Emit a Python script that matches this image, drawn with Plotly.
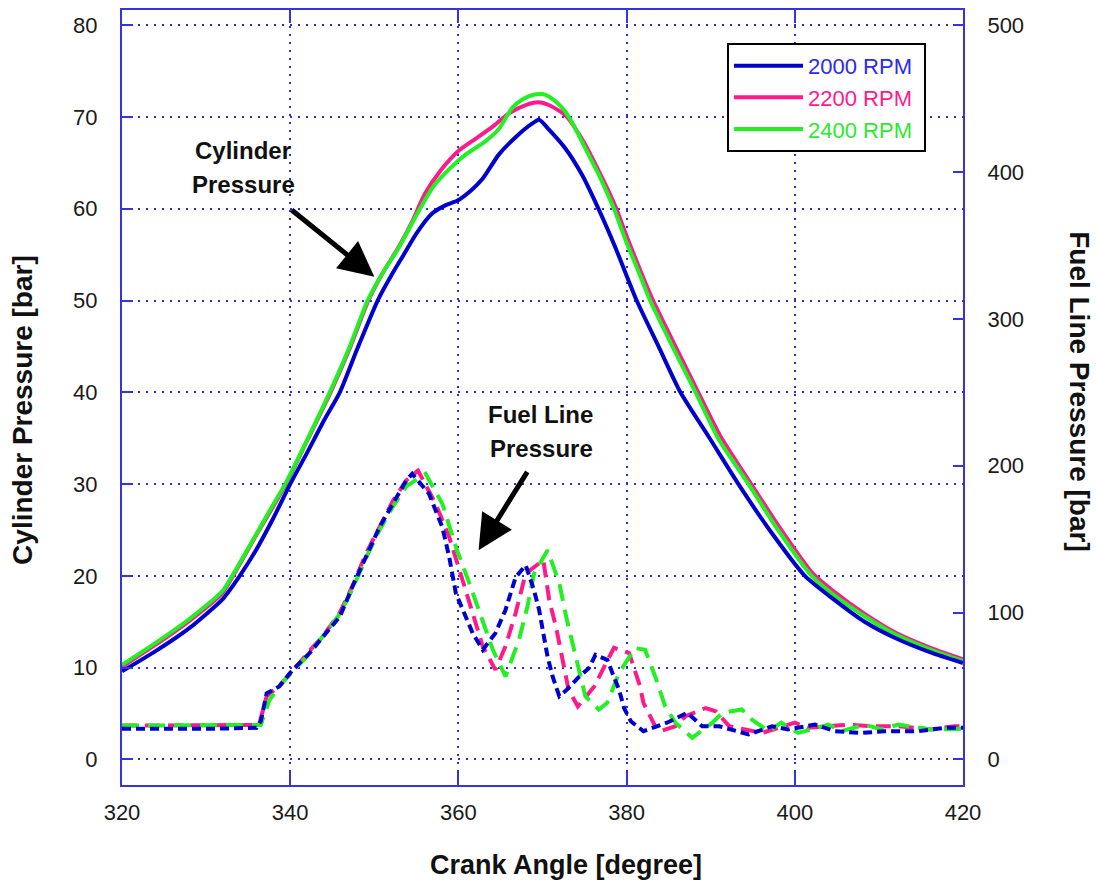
import plotly.graph_objects as go

# ---------------- data ----------------
# Cylinder pressure [bar] (left axis), crank angle [deg]
cyl_2000_x = [320, 324, 328, 332, 334, 336, 338, 340, 342, 344, 345.9, 348, 350.4, 352, 353.5, 355,
              356.9, 358.5, 359.9, 361.5, 362.9, 364.8, 366.8, 368.8, 369.6, 370.8, 372.7, 374.7,
              376.7, 378.7, 381.2, 383.8, 386.4, 389.8, 393.3, 397, 401.2, 404.4, 408.3, 412,
              416.3, 420]
cyl_2000_y = [9.6, 11.8, 14.3, 17.5, 20.0, 22.9, 26.3, 30.0, 33.4, 36.9, 40.0, 44.8, 50.0, 52.7, 55.0, 57.3,
              59.5, 60.4, 60.9, 62.0, 63.3, 65.9, 67.8, 69.3, 69.7, 68.6, 66.6, 63.7,
              59.9, 55.7, 50.0, 45.0, 40.0, 35.1, 30.0, 25.0, 20.0, 17.6, 15.0, 13.2,
              11.6, 10.5]

cyl_2200_x = [320, 324, 328, 332, 333.2, 336, 338, 339.5, 342, 344.8, 347, 349.3, 351, 353, 354.5, 356,
              358, 360, 362, 364, 366, 368, 369.5, 371, 372.7, 374.7, 376.7, 378.6, 380.1, 382.9,
              385.6, 388.3, 391.1, 394.6, 398.1, 402.1, 404.5, 408.4, 412, 416.3, 420]
cyl_2200_y = [10.1, 12.5, 15.1, 18.2, 20.0, 24.5, 27.6, 30.0, 34.7, 40.0, 44.6, 50.0, 53.0, 56.0, 58.6, 61.6,
              64.3, 66.3, 67.6, 68.9, 70.4, 71.3, 71.6, 71.2, 70.2, 67.6, 64.1, 60.4, 56.8, 50.5,
              45.4, 40.4, 35.3, 30.3, 25.4, 20.3, 18.4, 15.8, 13.8, 12.1, 10.9]

cyl_2400_x = [320, 324, 328, 332, 333.1, 336, 338, 339.4, 342, 344.7, 347, 349.2, 351, 353, 355, 357,
              359, 361, 363, 364.8, 366.4, 367.6, 368.8, 370, 370.8, 371.8, 372.7, 373.7, 374.7,
              375.7, 376.7, 377.6, 378.5, 380, 381.4, 382.8, 385.5, 388.2, 391, 394.5, 398, 402,
              404.4, 408.3, 412, 416.3, 420]
cyl_2400_y = [10.3, 12.7, 15.3, 18.4, 20.0, 24.6, 27.8, 30.0, 34.8, 40.0, 44.8, 50.0, 53.0, 55.9, 59.3, 62.4,
              64.4, 66.0, 67.2, 68.7, 71.0, 71.9, 72.4, 72.5, 72.2, 71.5, 70.6, 69.1, 67.3,
              65.5, 63.7, 61.9, 60.0, 56.3, 53.2, 50.0, 44.9, 40.0, 34.8, 30.0, 25.0, 20.0,
              18.1, 15.6, 13.6, 11.9, 10.7]

# Fuel line pressure [bar] (right axis)
fuel_2000_x = [320, 325, 330, 336.0, 336.5, 337.2, 338.7, 340.3, 342.3, 343.9, 345.9, 347.4, 349.0, 350.6,
               352.2, 353.8, 354.5, 356.5, 358.1, 358.9, 359.7, 360.5, 361.7, 362.9, 364.4, 365.6,
               366.8, 368.0, 369.0, 369.6, 370.2, 370.6, 371.2, 372.0, 372.9, 374.3, 375.5, 376.3,
               377.7, 378.3, 379.1, 379.7, 380.5, 382.0, 384.8, 387.2, 389.0, 391.0, 394.5, 397.3,
               399.2, 402.4, 404.8, 407.9, 410.7, 414.7, 417.8, 420]
fuel_2000_y = [20.8, 20.8, 20.8, 21.5, 26, 45, 49.7, 61, 72.4, 83.6, 97.2, 117.6, 138, 158,
               174, 190, 194.5, 181, 158, 138, 113, 101.8, 86, 74.6, 86, 101.8,
               124, 132.3, 115, 101.8, 83.6, 70, 56.5, 43, 47.5, 56, 62, 71.2,
               67.8, 58.8, 47.5, 35, 26, 19.2, 25, 31.7, 22.6, 22.6, 17, 22.6,
               20.4, 23.7, 19.2, 18, 19.2, 19.2, 21.5, 21.5]

fuel_2200_x = [320, 325, 330, 336.3, 337.2, 338.7, 340.3, 342.3, 343.9, 345.9, 347.4, 349.0, 350.6, 352.2,
               353.8, 355.2, 357.3, 358.9, 360.5, 361.7, 362.9, 364.4, 365.6, 366.8, 368.0, 370.1,
               370.8, 371.6, 372.4, 373.1, 374.2, 376.2, 377.5, 378.5, 380.3, 380.7, 381.6, 382.0,
               383.4, 384.0, 385.8, 387.0, 389.4, 390.6, 392.2, 394.1, 396.1, 400.0, 401.6, 406.4,
               409.1, 412.3, 416.2, 419.0, 420]
fuel_2200_y = [23, 23, 23, 23.5, 43, 50, 60, 74, 84, 100, 118, 140, 158, 176,
               190, 196.7, 174, 151.5, 122, 99.5, 76.9, 61, 77, 99.5, 126.6, 135.7,
               108.5, 90.4, 65.6, 47.5, 36, 50, 65, 76, 72.4, 65.6, 49.7, 38.5,
               22.6, 19.2, 22.6, 29.4, 35, 32.8, 22.6, 20.4, 18, 25, 21.5, 23.7,
               22.6, 22.6, 20.4, 22.6, 22.6]

fuel_2400_x = [320, 325, 330, 336.5, 337.5, 338.7, 340.3, 342.3, 343.9, 345.9, 347.4, 349.0, 350.6, 352.2,
               353.8, 356.1, 358.1, 359.7, 361.3, 362.9, 364.1, 365.6, 367.2, 368.2, 369.0, 370.6,
               372.0, 372.9, 373.9, 375.1, 376.7, 377.7, 379.1, 381.0, 382.2, 383.4, 384.6, 385.8,
               387.8, 390.2, 391.4, 393.7, 394.9, 396.9, 398.4, 400.4, 402.0, 404.0, 405.6, 408.3,
               410.3, 412.3, 416.2, 420]
fuel_2400_y = [23, 23, 23, 23.5, 40, 50, 60, 72, 84, 99, 116, 137, 156, 172,
               186, 194.5, 174, 144.7, 120, 95, 74.6, 56.5, 81.4, 104, 126.6, 142.5,
               120, 95, 72.4, 43, 34, 38.5, 58.8, 75.8, 74.6, 56.5, 36, 25,
               14.7, 25, 31.7, 34, 27, 19.2, 25, 18, 20.4, 23.7, 19.2, 23.7,
               20.4, 23.7, 20.4, 20.8]

series_names = ["2000 RPM", "2200 RPM", "2400 RPM"]
line_colors = ["#0000CC", "#FF1A8C", "#22F022"]
legend_text_colors = ["#2A2AF0", "#FF1A8C", "#2EE82E"]
fuel_dashes = ["9px,5px", "15px,8px", "17px,9px"]

x_ticks = [320, 340, 360, 380, 400, 420]
y_ticks = [0, 10, 20, 30, 40, 50, 60, 70, 80]
y2_ticks = [0, 100, 200, 300, 400, 500]

FONT = "Liberation Sans, Arial, sans-serif"
AXIS_BLUE = "#3535E0"
GRID_BLUE = "#2A2AE0"

cyl = [(cyl_2000_x, cyl_2000_y), (cyl_2200_x, cyl_2200_y), (cyl_2400_x, cyl_2400_y)]
fuel = [(fuel_2000_x, fuel_2000_y), (fuel_2200_x, fuel_2200_y), (fuel_2400_x, fuel_2400_y)]

fig = go.Figure()

draw_order = [1, 2, 0]
for i in draw_order:
    fx, fy = fuel[i]
    fig.add_trace(go.Scatter(x=fx, y=fy, mode="lines", yaxis="y2", showlegend=False,
                             line=dict(color=line_colors[i], width=4, dash=fuel_dashes[i])))
for i in draw_order:
    cx, cy = cyl[i]
    fig.add_trace(go.Scatter(
        x=cx, y=cy, mode="lines", legendrank=i + 1,
        name=f"<span style='color:{legend_text_colors[i]}'>{series_names[i]}</span>&nbsp;",
        line=dict(color=line_colors[i], width=4, shape="spline", smoothing=0.6)))

fig.update_layout(
    width=1096, height=883,
    margin=dict(l=122, r=133, t=8, b=98),
    paper_bgcolor="white", plot_bgcolor="white",
    font=dict(family=FONT, size=21, color="#1a1a1a"),
    showlegend=True,
    legend=dict(x=0.7194, y=0.9575, xanchor="left", yanchor="top",
                bordercolor="black", borderwidth=2, bgcolor="white",
                font=dict(family=FONT, size=22), tracegroupgap=0,
                itemwidth=69),
    xaxis=dict(range=[320, 420], tickvals=x_ticks, ticks="inside", ticklen=13, tickwidth=2,
               tickcolor=AXIS_BLUE, showline=True, linecolor=AXIS_BLUE, linewidth=2, mirror="ticks",
               showgrid=True, gridcolor=GRID_BLUE, gridwidth=1.5, griddash="2px,6px",
               zeroline=False, ticklabelstandoff=7,
               tickfont=dict(family=FONT, size=22, color="#1a1a1a")),
    yaxis=dict(range=[-2.79, 81.66], tickvals=y_ticks, ticks="inside", ticklen=11, tickwidth=2,
               tickcolor=AXIS_BLUE, showline=True, linecolor=AXIS_BLUE, linewidth=2,
               showgrid=True, gridcolor=GRID_BLUE, gridwidth=1.5, griddash="2px,6px",
               zeroline=False, ticklabelstandoff=18,
               tickfont=dict(family=FONT, size=22, color="#1a1a1a")),
    yaxis2=dict(range=[-17.44, 510.4], tickvals=y2_ticks, overlaying="y", side="right",
                ticks="inside", ticklen=10, tickwidth=2, tickcolor=AXIS_BLUE,
                showline=True, linecolor=AXIS_BLUE, linewidth=2, showgrid=False, zeroline=False,
                ticklabelstandoff=18,
                tickfont=dict(family=FONT, size=22, color="#1a1a1a")),
)

xtitle_font = dict(family=FONT, size=27, color="#111111")
ytitle_font = dict(family=FONT, size=28, color="#111111")
note_font = dict(family=FONT, size=24, color="#111111")
ann = [
    dict(text="<b>Crank Angle [degree]</b>", xref="paper", yref="paper", x=0.528, y=-0.103,
         showarrow=False, font=xtitle_font, xanchor="center", yanchor="middle"),
    dict(text="<b>Cylinder Pressure [bar]</b>", xref="paper", yref="paper", x=-0.1177, y=0.484,
         showarrow=False, font=ytitle_font, textangle=-90, xanchor="center", yanchor="middle"),
    dict(text="<b>Fuel Line Pressure [bar]</b>", xref="paper", yref="paper", x=1.139, y=0.507,
         showarrow=False, font=ytitle_font, textangle=90, xanchor="center", yanchor="middle"),
    dict(text="<b>Cylinder</b>", x=334.4, y=66.4, showarrow=False, font=note_font),
    dict(text="<b>Pressure</b>", x=334.4, y=62.6, showarrow=False, font=note_font),
    dict(text="<b>Fuel Line</b>", x=369.8, y=37.6, showarrow=False, font=note_font),
    dict(text="<b>Pressure</b>", x=369.9, y=33.9, showarrow=False, font=note_font),
    dict(text="", x=350.0, y=52.6, ax=340.0, ay=60.0, axref="x", ayref="y",
         showarrow=True, arrowhead=2, arrowsize=1.4, arrowwidth=5, arrowcolor="black"),
    dict(text="", x=362.4, y=22.8, ax=368.3, ay=31.5, axref="x", ayref="y",
         showarrow=True, arrowhead=2, arrowsize=1.4, arrowwidth=5, arrowcolor="black"),
]
fig.update_layout(annotations=ann)

fig.write_html("out.html", config={"displayModeBar": False},
               post_script="document.body.style.margin='0px';")
